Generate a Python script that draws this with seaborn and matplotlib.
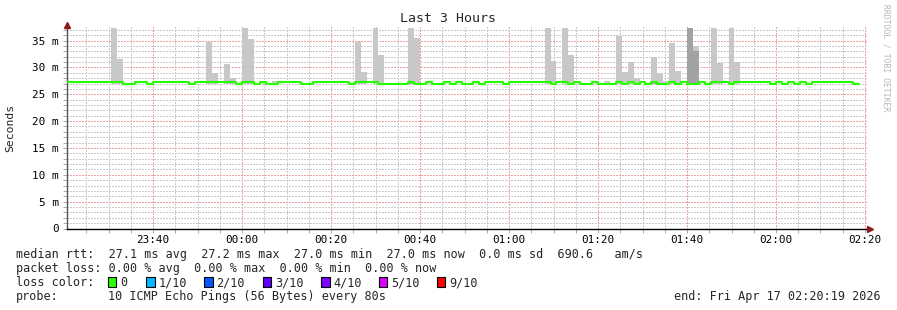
import matplotlib
matplotlib.use("Agg")
import matplotlib.pyplot as plt
from matplotlib.ticker import MultipleLocator, FixedLocator
from matplotlib.patches import Rectangle
import numpy as np
import pandas as pd
import seaborn as sns

# ---------------- data ----------------
BIN_SECONDS = 80
first_bin = -30          # bin index relative to 00:00 (80 s bins)
median_ms = [
    27.2, 27.2, 27.2, 27.2, 27.2, 27.2, 27.2, 27.2, 27.2, 27.2,
    27.0, 27.0, 27.2, 27.2, 27.0, 27.2, 27.2, 27.2, 27.2, 27.2,
    27.2, 27.0, 27.2, 27.2, 27.2, 27.2, 27.2, 27.2, 27.2, 27.0,
    27.2, 27.2, 27.0, 27.2, 27.0, 27.0, 27.2, 27.2, 27.2, 27.2,
    27.0, 27.0, 27.2, 27.2, 27.2, 27.2, 27.2, 27.2, 27.0, 27.2,
    27.2, 27.2, 27.2, 27.0, 27.0, 27.0, 27.0, 27.0, 27.2, 27.0,
    27.0, 27.2, 27.0, 27.0, 27.2, 27.0, 27.2, 27.0, 27.0, 27.2,
    27.0, 27.2, 27.2, 27.2, 27.0, 27.2, 27.2, 27.2, 27.2, 27.2,
    27.2, 27.2, 27.0, 27.2, 27.2, 27.0, 27.2, 27.0, 27.0, 27.2,
    27.0, 27.0, 27.0, 27.2, 27.0, 27.2, 27.0, 27.2, 27.0, 27.2,
    27.0, 27.0, 27.2, 27.0, 27.2, 27.0, 27.0, 27.2, 27.0, 27.2,
    27.2, 27.2, 27.0, 27.2, 27.2, 27.2, 27.2, 27.2, 27.2, 27.0,
    27.2, 27.0, 27.2, 27.0, 27.2, 27.0, 27.2, 27.2, 27.2, 27.2,
    27.2, 27.2, 27.2, 27.0,
]
smoke_base = 27.0
smoke_bins = [-22, -21, -6, -5, -3, -2, 0, 1, 5, 19, 20, 22, 23, 28, 29,
              51, 52, 54, 55, 61, 63, 64, 65, 66, 69, 70, 71, 72, 73,
              75, 76, 79, 80, 82, 83]
smoke_top = [37.4, 31.6, 34.8, 29.0, 30.7, 28.0, 37.4, 35.3, 27.4, 34.8, 29.2, 37.4, 32.3, 37.4, 35.5,
             37.4, 31.2, 37.4, 32.3, 27.4, 35.9, 29.2, 31.0, 28.1, 32.0, 29.0, 27.4, 34.6, 29.4,
             37.4, 34.0, 37.4, 30.9, 37.4, 31.0]
dark_bins = [28, 69, 75, 76]
dark_top = [27.5, 27.4, 37.4, 33.1]

x_tick_minutes = [-20, 0, 20, 40, 60, 80, 100, 120, 140]
x_tick_labels = ["23:40", "00:00", "00:20", "00:40", "01:00", "01:20", "01:40", "02:00", "02:20"]
y_ticks = [0, 5, 10, 15, 20, 25, 30, 35]
y_tick_labels = ["0", "5 m", "10 m", "15 m", "20 m", "25 m", "30 m", "35 m"]

loss_labels = ["0", "1/10", "2/10", "3/10", "4/10", "5/10", "9/10"]
loss_colors = ["#26ff00", "#00b8ff", "#0059ff", "#5e00ff", "#7e00ff", "#dd00ff", "#ff0000"]

legend_rtt = "median rtt:  27.1 ms avg  27.2 ms max  27.0 ms min  27.0 ms now  0.0 ms sd  690.6   am/s"
legend_loss = "packet loss: 0.00 % avg  0.00 % max  0.00 % min  0.00 % now"
probe_text = "10 ICMP Echo Pings (56 Bytes) every 80s"
end_text = "end: Fri Apr 17 02:20:19 2026"

# ---------------- style ----------------
sns.set_theme(style="white")
plt.rcParams["font.family"] = ["DejaVu Sans Mono"]
plt.rcParams["lines.dash_capstyle"] = "butt"
MONO = "DejaVu Sans Mono"

W, H = 897, 310
fig = plt.figure(figsize=(W / 100, H / 100), dpi=100)
fig.patch.set_facecolor("white")
top_px, bot_px, left_px, right_px = 27.0, 228.5, 67.0, 867.0
ax = fig.add_axes([left_px / W, 1 - bot_px / H, (right_px - left_px) / W, (bot_px - top_px) / H])
ax.set_facecolor("white")

bw = BIN_SECONDS / 60.0
# smoke
s_x = [b * bw for b in smoke_bins]
ax.bar(s_x, np.array(smoke_top) - smoke_base, bottom=smoke_base, width=bw, align="edge",
       color="#c8c8c8", linewidth=0, zorder=2)
d_x = [b * bw for b in dark_bins]
ax.bar(d_x, np.array(dark_top) - smoke_base, bottom=smoke_base, width=bw, align="edge",
       color="#a2a2a2", linewidth=0, zorder=2)

# median line (step)
bins = list(range(first_bin, first_bin + len(median_ms)))
t = [b * bw for b in bins] + [(bins[-1] + 1) * bw]
v = median_ms + [median_ms[-1]]
df = pd.DataFrame({"t": t, "rtt": v})
sns.lineplot(data=df, x="t", y="rtt", drawstyle="steps-post", color="#26ff00", linewidth=1.5,
             estimator=None, sort=False, ax=ax, zorder=3)

ax.set_xlim(-39.33, 140.45)
ax.set_ylim(0, (bot_px - top_px) / 5.37)

# grid
ax.xaxis.set_major_locator(FixedLocator(x_tick_minutes))
ax.xaxis.set_minor_locator(MultipleLocator(5))
ax.yaxis.set_major_locator(FixedLocator(y_ticks))
ax.yaxis.set_minor_locator(MultipleLocator(1))
ax.set_xticklabels(x_tick_labels)
ax.set_yticklabels(y_tick_labels)
ax.grid(which="minor", color="#cbcbcb", linestyle=(0, (1.4, 1.4)), linewidth=0.72, antialiased=False)
ax.grid(which="major", color="#f0a0a0", linestyle=(0, (1.4, 1.4)), linewidth=0.72, antialiased=False)
ax.set_axisbelow(True)

ax.tick_params(axis="both", which="both", direction="out", length=3, width=0.7, color="#aaaaaa",
               labelsize=7.9, labelcolor="black", bottom=True, left=True)
ax.tick_params(axis="x", which="major", pad=1.5)
ax.tick_params(axis="y", which="major", pad=3)
for lab in ax.get_xticklabels() + ax.get_yticklabels():
    lab.set_family(MONO)

for s in ["top", "right"]:
    ax.spines[s].set_visible(False)
ax.spines["bottom"].set_color("black")
ax.spines["bottom"].set_linewidth(1.0)
ax.spines["left"].set_color("#555555")
ax.spines["left"].set_linewidth(1.0)
ax.set_xlabel("")
ax.set_ylabel("Seconds", fontsize=8.2, family=MONO, labelpad=12)

# axis arrows
ax.plot([0], [1.01], marker="^", color="#8b1a1a", markersize=4, transform=ax.transAxes, clip_on=False, zorder=5)
ax.plot([1.004], [0], marker=">", color="#8b1a1a", markersize=4, transform=ax.transAxes, clip_on=False, zorder=5)

def ftext(x, y, s, **kw):
    kw.setdefault("family", MONO)
    kw.setdefault("va", "center")
    fig.text(x / W, 1 - y / H, s, **kw)

ftext(448, 19, "Last 3 Hours", ha="center", fontsize=9.5)
ftext(886, 4, "RRDTOOL / TOBI OETIKER", ha="center", va="top", rotation=270, fontsize=5.8, color="#b8b8b8")

fs = 8.5
ftext(16, 254.5, legend_rtt, ha="left", fontsize=fs)
ftext(16, 268.5, legend_loss, ha="left", fontsize=fs)
ftext(16, 282.5, "loss color:", ha="left", fontsize=fs)
box_x = [107.7, 146.1, 204.0, 262.5, 321.0, 378.8, 436.7]
for bx, col, lab in zip(box_x, loss_colors, loss_labels):
    fig.add_artist(Rectangle((bx / W, 1 - 287 / H), 8.5 / W, 10 / H, transform=fig.transFigure,
                             facecolor=col, edgecolor="black", linewidth=0.8))
    ftext(bx + 12.5, 282.5, lab, ha="left", fontsize=fs)
ftext(16, 296.5, "probe:", ha="left", fontsize=fs)
ftext(108, 296.5, probe_text, ha="left", fontsize=fs)
ftext(881, 296.5, end_text, ha="right", fontsize=fs)

fig.savefig("out.png", dpi=100, facecolor="white")
